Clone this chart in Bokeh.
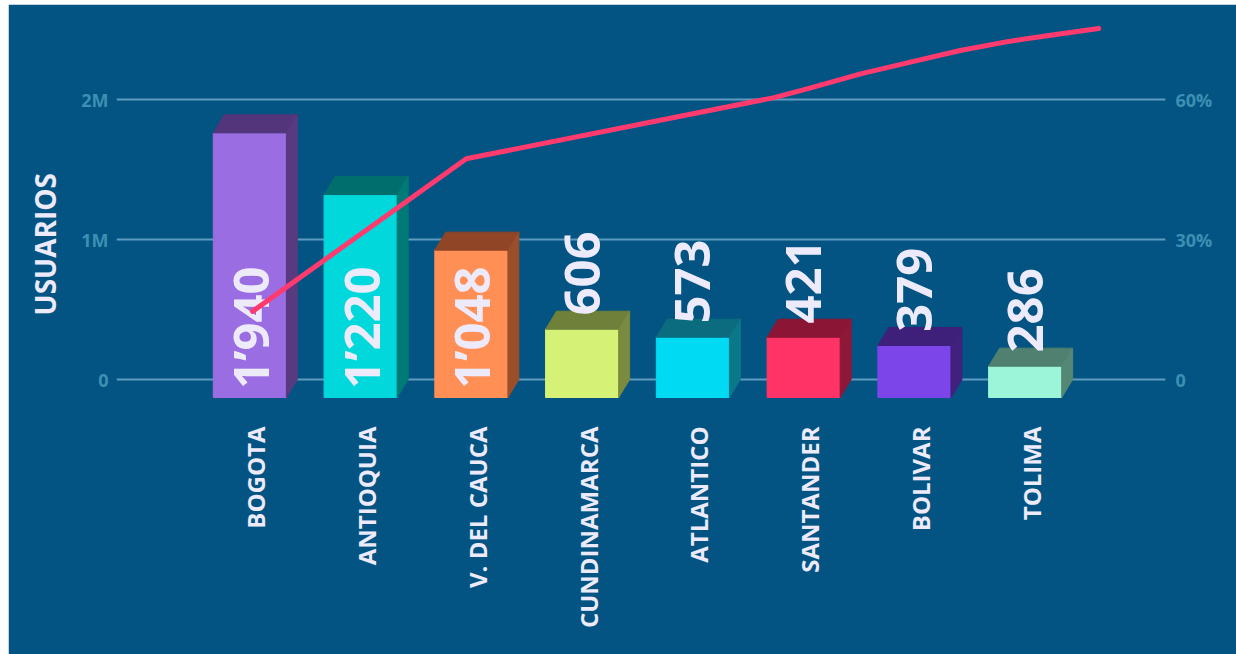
import math
from bokeh.plotting import figure
from bokeh.models import Range1d, LinearAxis, FixedTicker, ColumnDataSource, Title, Spacer
from bokeh.layouts import column, row
from bokeh.core.properties import value
from bokeh.embed import file_html
from bokeh.resources import INLINE

# ---------------- data ----------------
departamentos = ["BOGOTA", "ANTIOQUIA", "V. DEL CAUCA", "CUNDINAMARCA",
                 "ATLANTICO", "SANTANDER", "BOLIVAR", "TOLIMA"]
usuarios_miles = [1940, 1220, 1048, 606, 573, 421, 379, 286]
etiquetas = ["1’940", "1’220", "1’048", "606", "573", "421", "379", "286"]
# bar heights as drawn in the picture (millions of users)
altura_barra_m = [1.762, 1.321, 0.924, 0.359, 0.302, 0.302, 0.243, 0.095]
# cumulative-percentage curve (position along the category axis, percent)
curva_pos = [-0.03, 1.90, 4.68, 5.01, 5.46, 5.91, 6.36, 6.81, 7.27, 7.61]
curva_pct = [14.6, 47.3, 60.4, 62.5, 65.5, 68.0, 70.5, 72.5, 74.1, 75.2]

y_ticks_m = [0, 1, 2]
y_tick_labels = ["0", "1M", "2M"]
pct_ticks = [0, 30, 60]
pct_tick_labels = ["0", "30%", "60%"]

color_frente = ["#9B6DE3", "#00D8DB", "#FF8F55", "#D6F276",
                "#00DAF3", "#FF3366", "#7B45EA", "#9CF5D8"]
color_tapa = ["#52357A", "#006E6C", "#8F4526", "#6F803A",
              "#0B6C80", "#8A1535", "#3E1F7A", "#4F8070"]
color_lado = ["#573A80", "#007A76", "#9A4E2A", "#7A8A3E",
              "#0A7888", "#8E1838", "#41207E", "#558874"]

# ---------------- style ----------------
BG = "#035482"
TXT = "#EDEBFB"
TICK = "#3C90B3"
FONT = "Open Sans"

base = -0.1286      # 3D base sits slightly below zero
dx, dy = 0.099, 0.1286
half_l, half_r = 0.384, 0.276

p = figure(width=1228, height=650, output_backend="svg", toolbar_location=None,
           x_range=Range1d(-1.258, 8.213), y_range=Range1d(-0.2214, 2.6))
p.min_border = 0
p.min_border_left = 107
p.min_border_right = 71
p.min_border_top = 11
p.min_border_bottom = 244
p.background_fill_color = BG
p.border_fill_color = BG
p.outline_line_color = BG
p.outline_line_width = 3

p.xgrid.grid_line_color = None
p.ygrid.grid_line_color = "#5F9CC0"
p.ygrid.grid_line_width = 2

# left axis
ya = p.yaxis[0]
ya.ticker = FixedTicker(ticks=y_ticks_m)
ya.major_label_overrides = dict(zip(y_ticks_m, y_tick_labels))
# right axis
p.extra_y_ranges = {"pct": Range1d(-0.2214 * 30, 2.6 * 30)}
ra = LinearAxis(y_range_name="pct", ticker=FixedTicker(ticks=pct_ticks),
                major_label_overrides=dict(zip(pct_ticks, pct_tick_labels)))
p.add_layout(ra, "right")
for ax in (ya, ra):
    ax.axis_line_color = None
    ax.major_tick_line_color = None
    ax.minor_tick_line_color = None
    ax.major_label_text_color = TICK
    ax.major_label_text_font = FONT
    ax.major_label_text_font_style = "bold"
    ax.major_label_text_font_size = "18px"
ya.major_label_standoff = 2
ra.major_label_standoff = 4

# bottom axis (categories)
xs = list(range(len(departamentos)))
xa = p.xaxis[0]
xa.ticker = FixedTicker(ticks=xs)
xa.major_label_overrides = dict(zip(xs, departamentos))
xa.major_label_orientation = math.pi / 2
xa.axis_line_color = None
xa.major_tick_line_color = None
xa.minor_tick_line_color = None
xa.major_label_text_color = TXT
xa.major_label_text_font = FONT
xa.major_label_text_font_style = "bold"
xa.major_label_text_font_size = "24px"
xa.major_label_standoff = 10

# axis title on the left
p.add_layout(Title(text="USUARIOS", align="left", offset=95, standoff=30,
                   text_font=FONT, text_font_style="bold",
                   text_font_size="28px", text_color=TXT), "left")

# ---------------- 3D bars ----------------
left = [x - half_l for x in xs]
right = [x + half_r for x in xs]
p.quad(left=left, right=right, bottom=base, top=altura_barra_m,
       fill_color=color_frente, line_color=color_frente, line_width=1)

top_x, top_y, side_x, side_y = [], [], [], []
for l, r, h in zip(left, right, altura_barra_m):
    top_x.append([l, r, r + dx, l + dx])
    top_y.append([h, h, h + dy, h + dy])
    side_x.append([r, r, r + dx, r + dx])
    side_y.append([base, h, h + dy, base + dy])
p.patches(top_x, top_y, fill_color=color_tapa, line_color=color_tapa, line_width=1)
p.patches(side_x, side_y, fill_color=color_lado, line_color=color_lado, line_width=1)

# ---------------- value labels ----------------
lx, ly = [], []
for x, h, v in zip(xs, altura_barra_m, usuarios_miles):
    lx.append(x - 0.054)
    if v >= 1000:
        ly.append(base + 0.06)
    else:
        ly.append(h + dy - 0.03)
src = ColumnDataSource(dict(x=lx, y=ly, t=etiquetas))
p.text(x="x", y="y", text="t", source=src, angle=math.pi / 2,
       text_align="left", text_baseline="middle",
       text_font=value(FONT), text_font_style="bold",
       text_font_size="49px", text_color=TXT)

# ---------------- cumulative line ----------------
p.line(curva_pos, curva_pct, y_range_name="pct", line_color="#FF3A6E",
       line_width=5, line_cap="round", line_join="round")

layout = column(Spacer(width=1236, height=4),
                row(Spacer(width=8, height=650), p))

open("out.html", "w").write(file_html(layout, INLINE))
